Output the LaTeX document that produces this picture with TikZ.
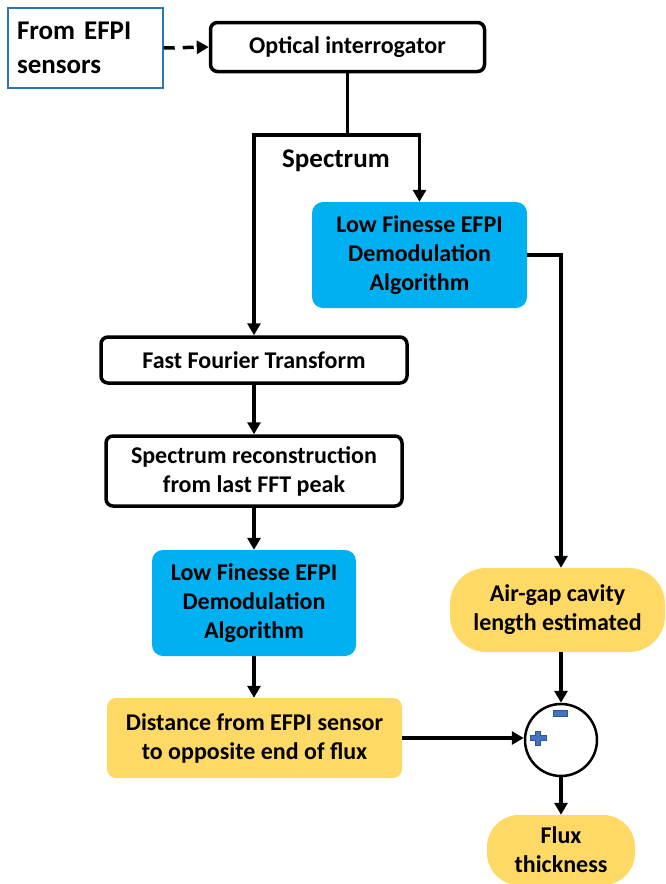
\documentclass[tikz,border=0pt]{standalone}
\usepackage{fontspec}
\setmainfont{Carlito}
\usetikzlibrary{arrows.meta,positioning}

\definecolor{algoblue}{HTML}{00B0F0}
\definecolor{resultyellow}{HTML}{FFD966}
\definecolor{srcblue}{HTML}{2E75B6}
\definecolor{signblue}{HTML}{4472C4}
\definecolor{signedge}{HTML}{2F5597}

\tikzset{
  txt/.style={font=\bfseries\fontsize{24}{29}\selectfont, align=center, inner sep=0pt},
  stepbox/.style={txt, draw, line width=3.5pt, rounded corners=7pt},
  algo/.style={txt, fill=algoblue, rounded corners=11pt},
  result/.style={txt, fill=resultyellow, rounded corners=9pt},
  pill/.style={txt, fill=resultyellow, rounded corners=36pt},
  flow/.style={line width=3.5pt, -{Triangle[length=12pt,width=13pt]}}
}

\begin{document}
\begin{tikzpicture}[x=1pt,y=-1pt]
	\useasboundingbox (0,0) rectangle (665,884);
	% input and interrogator
	\node[draw=srcblue, line width=1.5pt, minimum width=155pt, minimum height=80pt,
	      text width=137pt, align=left, inner sep=0pt,
	      font=\bfseries\fontsize{27}{34}\selectfont] (src) at (85.5,48) {From EFPI\\sensors};
	\node[stepbox, minimum width=274pt, minimum height=49pt] (oi) at (347.5,47) {Optical interrogator};
	\draw[line width=3.5pt, dash pattern=on 11pt off 8pt, -{Triangle[length=12pt,width=13pt]}] (src.east) -- (oi.west);

	% blocks
	\node[algo, minimum width=215pt, minimum height=106pt] (lfa) at (419.5,255) {Low Finesse EFPI\\Demodulation\\Algorithm};
	\node[stepbox, minimum width=306pt, minimum height=46pt] (fft) at (254,360) {Fast Fourier Transform};
	\node[stepbox, minimum width=296pt, minimum height=70pt] (rec) at (254,471) {Spectrum reconstruction\\from last FFT peak};
	\node[algo, minimum width=204pt, minimum height=106pt] (lfb) at (254,603) {Low Finesse EFPI\\Demodulation\\Algorithm};
	\node[result, minimum width=295pt, minimum height=80pt] (dist) at (254.5,738) {Distance from EFPI sensor\\to opposite end of flux};
	\node[pill, minimum width=215pt, minimum height=84pt] (air) at (557.5,610) {Air-gap cavity\\length estimated};
	\node[draw, circle, line width=2.5pt, minimum size=72pt, inner sep=0pt] (sum) at (561,740) {};
	\node[pill, rounded corners=32pt, minimum width=148pt, minimum height=70pt] (flux) at (561,850) {Flux\\thickness};
	\node[font=\bfseries\fontsize{27}{30}\selectfont, inner sep=0pt] (spec) at (336,161) {Spectrum};

	% spectrum split
	\coordinate (split) at (oi.south |- 0,135);
	\draw[line width=3.5pt] (oi.south) -- (split);
	\draw[flow] (split) -| (fft.north);
	\draw[flow] (split) -| (lfa.north);

	% left branch
	\draw[flow] (fft) -- (rec);
	\draw[flow] (rec.south) -- (lfb.north);
	\draw[flow] (lfb.south) -- (lfb.south |- dist.north);

	% right branch
	\draw[flow] (lfa.east) -| (air.north -| sum.north);
	\draw[flow] (air.south -| sum.north) -- (sum.north);
	\draw[flow] (dist.east) -- (dist.east -| sum.west);
	\draw[flow] (sum.south) -- (flux.north);

	% signs
	\draw[fill=signblue, draw=signedge, line width=0.6pt] (553,710) rectangle (567,716);
	\draw[fill=signblue, draw=signedge, line width=0.6pt]
	  (535.5,731) -- (540.5,731) -- (540.5,735.5) -- (546,735.5) -- (546,740.5) -- (540.5,740.5)
	  -- (540.5,745.5) -- (535.5,745.5) -- (535.5,740.5) -- (530,740.5) -- (530,735.5) -- (535.5,735.5) -- cycle;
\end{tikzpicture}
\end{document}
